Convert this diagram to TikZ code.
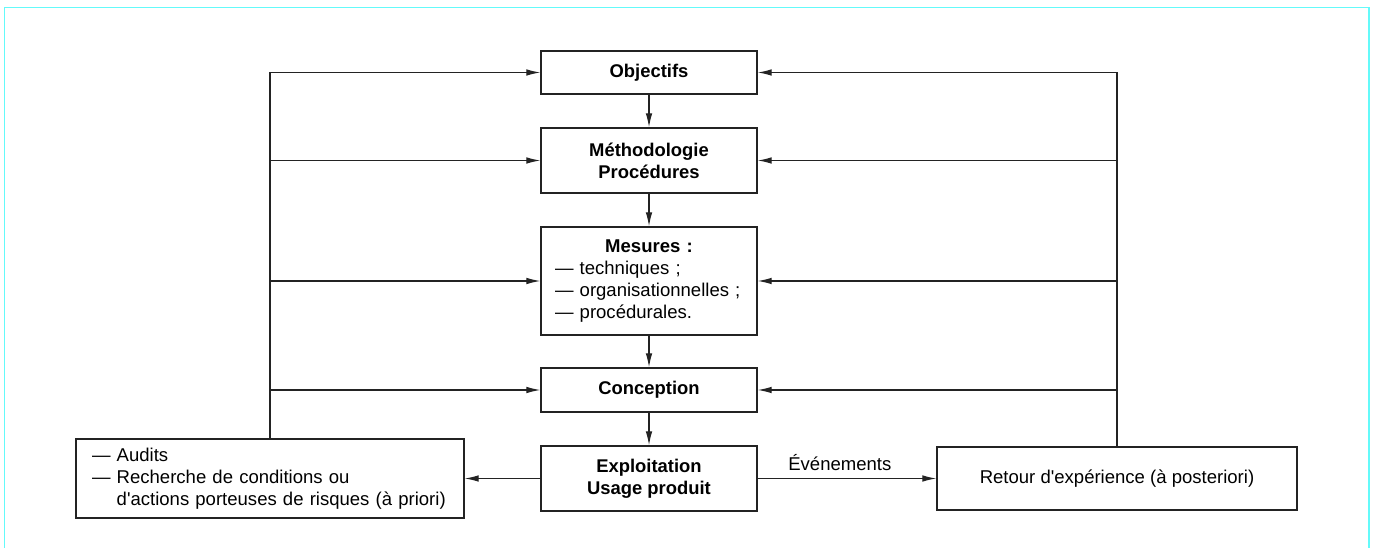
\documentclass[tikz,border=0pt]{standalone}
\usepackage{fontspec}
\setmainfont{Liberation Sans}[Ligatures=TeXOff]
\usetikzlibrary{arrows.meta}

\definecolor{framecyan}{RGB}{100,250,250}
\definecolor{linegray}{RGB}{35,35,35}

\tikzset{
    stepbox/.style={draw=linegray, line width=1.1pt, minimum width=162pt,
        align=center, font=\fontsize{13.8}{16.5}\selectfont\bfseries},
    sidebox/.style={draw=linegray, line width=1.1pt,
        font=\fontsize{13.9}{16.5}\selectfont},
    arr/.style={draw=linegray, line width=0.9pt, -{Latex[length=10.5pt,width=5pt]}},
    link/.style={draw=linegray, line width=0.9pt}
}

\begin{document}
\begin{tikzpicture}[x=0.75pt, y=-0.75pt]
    \useasboundingbox (0,0) rectangle (1373,548);

    % Draw the open frame
    \draw[framecyan, line width=1.2pt] (4.5,548) |- (1369,7.5) -- (1369,548);

    % Draw the main chain of boxes
    \node[stepbox, minimum height=32.25pt] (obj) at (649,72.5) {Objectifs};
    \node[stepbox, minimum height=48.75pt] (meth) at (649,160.5) {Méthodologie\\Procédures};
    \node[stepbox, minimum height=81pt, text width=141pt, inner xsep=10.5pt, align=left,
        font=\fontsize{13.9}{16.5}\selectfont] (mes) at (649,281)
        {\makebox[141pt][c]{\textbf{Mesures :}}\\— techniques ;\\— organisationnelles ;\\— procédurales.};
    \node[stepbox, minimum height=33pt] (conc) at (649,390) {Conception};
    \node[stepbox, minimum height=48.75pt] (expl) at (649,478.5) {Exploitation\\Usage produit};

    % Draw the two side boxes
    \node[sidebox, minimum width=291pt, minimum height=59.25pt, text width=267pt, inner xsep=12pt, align=left]
        (audits) at (270,478.5)
        {— Audits\\— Recherche de conditions ou\\\phantom{— }d'actions porteuses de risques (à priori)};
    \node[sidebox, minimum width=270pt, minimum height=47.25pt] (retour) at (1117,478.5)
        {Retour d'expérience (à posteriori)};

    % Draw the arrows down the chain
    \foreach \a/\b in {obj/meth, meth/mes, mes/conc, conc/expl} {
        \draw[arr] (\a) -- (\b);
    }

    % Draw the arrows out of the bottom box
    \draw[arr] (expl) -- (audits);
    \draw[arr] (expl) -- node[above=2pt, pos=0.46, font=\fontsize{13.9}{16.5}\selectfont] (evt) {Événements} (retour);

    % Draw the feedback lines
    \draw[arr] (audits.north) |- (obj);
    \draw[arr] (retour.north) |- (obj);
    \foreach \n in {meth, mes, conc} {
        \draw[arr] (audits.north |- \n) -- (\n);
        \draw[arr] (retour.north |- \n) -- (\n);
    }

\end{tikzpicture}
\end{document}
